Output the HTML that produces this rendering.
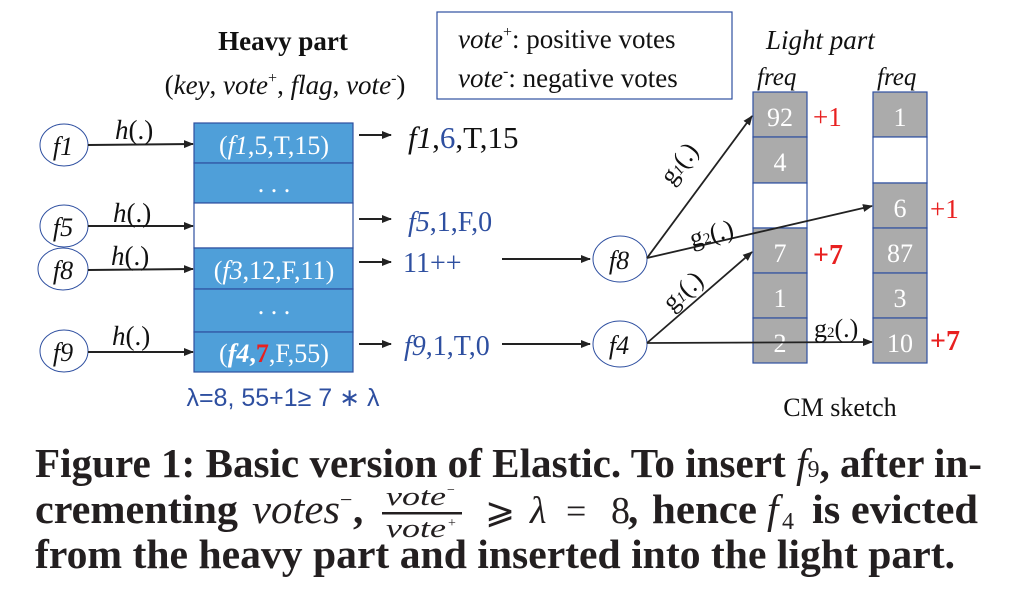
<!DOCTYPE html>
<html><head><meta charset="utf-8"><style>
html,body{margin:0;padding:0;background:#fff;}
svg{display:block;}
text{font-family:"Liberation Serif",serif;}
</style></head><body>
<svg width="1010" height="599" viewBox="0 0 1010 599" xmlns="http://www.w3.org/2000/svg">
<defs>
<marker id="ah" markerWidth="10" markerHeight="8" refX="9" refY="4" orient="auto" markerUnits="userSpaceOnUse"><path d="M0,0 L10,4 L0,8 z" fill="#222"/></marker>
</defs>
<text x="283" y="50" font-size="27" font-weight="bold" text-anchor="middle" fill="#111">Heavy part</text>
<text x="285" y="94" font-size="27" text-anchor="middle" fill="#111">(<tspan font-style="italic">key</tspan>, <tspan font-style="italic">vote</tspan><tspan font-size="16" dy="-11">+</tspan><tspan dy="11">, </tspan><tspan font-style="italic">flag</tspan>, <tspan font-style="italic">vote</tspan><tspan font-size="16" dy="-11">-</tspan><tspan dy="11">)</tspan></text>
<rect x="437" y="12" width="295" height="87" fill="#fff" stroke="#2e4fa0" stroke-width="1.2"/>
<text x="458" y="48" font-size="27" fill="#111"><tspan font-style="italic">vote</tspan><tspan font-size="16" dy="-11">+</tspan><tspan dy="11">: positive votes</tspan></text>
<text x="458" y="87" font-size="27" fill="#111"><tspan font-style="italic">vote</tspan><tspan font-size="16" dy="-11">-</tspan><tspan dy="11">: negative votes</tspan></text>
<rect x="194" y="123" width="159" height="40" fill="#4f9fd9" stroke="#2e4fa0" stroke-width="1.2"/>
<rect x="194" y="163" width="159" height="40" fill="#4f9fd9" stroke="#2e4fa0" stroke-width="1.2"/>
<rect x="194" y="203" width="159" height="45" fill="#fff" stroke="#2e4fa0" stroke-width="1.2"/>
<rect x="194" y="248" width="159" height="41" fill="#4f9fd9" stroke="#2e4fa0" stroke-width="1.2"/>
<rect x="194" y="289" width="159" height="43" fill="#4f9fd9" stroke="#2e4fa0" stroke-width="1.2"/>
<rect x="194" y="332" width="159" height="40" fill="#4f9fd9" stroke="#2e4fa0" stroke-width="1.2"/>
<text x="274" y="154" font-size="26" fill="#fff" text-anchor="middle">(<tspan font-style="italic">f1</tspan>,5,T,15)</text>
<text x="274" y="192" font-size="26" fill="#fff" text-anchor="middle">. . .</text>
<text x="274" y="279" font-size="26" fill="#fff" text-anchor="middle">(<tspan font-style="italic">f3</tspan>,12,F,11)</text>
<text x="274" y="314" font-size="26" fill="#fff" text-anchor="middle">. . .</text>
<text x="274" y="362" font-size="26" fill="#fff" text-anchor="middle">(<tspan font-style="italic" font-weight="bold">f4</tspan><tspan font-weight="bold">,</tspan><tspan font-weight="bold" fill="#e82020">7</tspan>,F,55)</text>
<text x="283" y="406" font-size="25" fill="#2e4fa0" text-anchor="middle" style="font-family:'Liberation Sans',sans-serif">λ=8, 55+1≥ 7 ∗ λ</text>
<g fill="#fff" stroke="#2e4fa0" stroke-width="1">
<ellipse cx="64" cy="145" rx="24" ry="21"/>
<ellipse cx="64" cy="226" rx="24" ry="21"/>
<ellipse cx="63" cy="269" rx="25" ry="21"/>
<ellipse cx="64" cy="351" rx="24" ry="21"/>
</g>
<g font-size="26" font-style="italic" fill="#111" text-anchor="middle">
<text x="63" y="155">f1</text>
<text x="63" y="236">f5</text>
<text x="63" y="279">f8</text>
<text x="63" y="361">f9</text>
</g>
<g stroke="#222" stroke-width="2" marker-end="url(#ah)">
<line x1="88" y1="145" x2="193" y2="144"/>
<line x1="88" y1="226" x2="193" y2="226"/>
<line x1="88" y1="270" x2="193" y2="269"/>
<line x1="88" y1="352" x2="193" y2="352"/>
</g>
<g font-size="27" fill="#111">
<text x="115" y="139"><tspan font-style="italic">h</tspan>(.)</text>
<text x="113" y="222"><tspan font-style="italic">h</tspan>(.)</text>
<text x="111" y="265"><tspan font-style="italic">h</tspan>(.)</text>
<text x="112" y="345"><tspan font-style="italic">h</tspan>(.)</text>
</g>
<g stroke="#222" stroke-width="2" marker-end="url(#ah)">
<line x1="359" y1="135" x2="391" y2="135"/>
<line x1="359" y1="219" x2="391" y2="219"/>
<line x1="359" y1="262" x2="391" y2="262"/>
<line x1="359" y1="344" x2="391" y2="344"/>
<line x1="502" y1="259" x2="590" y2="259"/>
<line x1="502" y1="344" x2="590" y2="344"/>
</g>
<text x="408" y="148" font-size="31" fill="#111"><tspan font-style="italic">f1</tspan>,<tspan fill="#2e4fa0">6</tspan>,T,15</text>
<text x="408" y="231" font-size="28" fill="#2e4fa0"><tspan font-style="italic">f5</tspan>,1,F,0</text>
<text x="403" y="272" font-size="28" fill="#2e4fa0">11++</text>
<text x="404" y="355" font-size="28" fill="#2e4fa0"><tspan font-style="italic">f9</tspan>,1,T,0</text>
<ellipse cx="620" cy="259" rx="27" ry="23" fill="#fff" stroke="#2e4fa0" stroke-width="1"/>
<ellipse cx="620" cy="344" rx="27" ry="23" fill="#fff" stroke="#2e4fa0" stroke-width="1"/>
<text x="619" y="269" font-size="26" font-style="italic" fill="#111" text-anchor="middle">f8</text>
<text x="619" y="354" font-size="26" font-style="italic" fill="#111" text-anchor="middle">f4</text>
<text x="766" y="49" font-size="27" font-style="italic" fill="#111">Light part</text>
<text x="757" y="85" font-size="25" font-style="italic" fill="#111">freq</text>
<text x="877" y="85" font-size="25" font-style="italic" fill="#111">freq</text>
<g stroke="#2e4fa0" stroke-width="1.2">
<rect x="753" y="92" width="54" height="45" fill="#ababab"/>
<rect x="753" y="137" width="54" height="46" fill="#ababab"/>
<rect x="753" y="183" width="54" height="45" fill="#fff"/>
<rect x="753" y="228" width="54" height="45" fill="#ababab"/>
<rect x="753" y="273" width="54" height="45" fill="#ababab"/>
<rect x="753" y="318" width="54" height="45" fill="#ababab"/>
<rect x="873" y="92" width="54" height="45" fill="#ababab"/>
<rect x="873" y="137" width="54" height="46" fill="#fff"/>
<rect x="873" y="183" width="54" height="45" fill="#ababab"/>
<rect x="873" y="228" width="54" height="45" fill="#ababab"/>
<rect x="873" y="273" width="54" height="45" fill="#ababab"/>
<rect x="873" y="318" width="54" height="45" fill="#ababab"/>
</g>
<g font-size="26" fill="#fff" text-anchor="middle">
<text x="780" y="126">92</text>
<text x="780" y="171">4</text>
<text x="780" y="262">7</text>
<text x="780" y="307">1</text>
<text x="780" y="352">2</text>
<text x="900" y="126">1</text>
<text x="900" y="217">6</text>
<text x="900" y="262">87</text>
<text x="900" y="307">3</text>
<text x="900" y="352">10</text>
</g>
<text x="813" y="126" font-size="27" fill="#e82020">+1</text>
<text x="813" y="264" font-size="28" font-weight="bold" fill="#e82020">+7</text>
<text x="930" y="218" font-size="27" fill="#e82020">+1</text>
<text x="930" y="350" font-size="28" font-weight="bold" fill="#e82020">+7</text>
<g stroke="#222" stroke-width="1.8" marker-end="url(#ah)">
<line x1="647" y1="258" x2="752" y2="116"/>
<line x1="647" y1="258" x2="872" y2="206"/>
<line x1="647" y1="343" x2="752" y2="252"/>
<line x1="647" y1="343" x2="872" y2="342"/>
</g>
<g font-size="26" fill="#111">
<text x="0" y="0" transform="translate(672,186) rotate(-52)">g<tspan font-size="15" font-style="italic">1</tspan>(.)</text>
<text x="0" y="0" transform="translate(692,247) rotate(-14)">g<tspan font-size="15">2</tspan>(.)</text>
<text x="0" y="0" transform="translate(672,312) rotate(-42)">g<tspan font-size="15" font-style="italic">1</tspan>(.)</text>
<text x="814" y="337">g<tspan font-size="15">2</tspan>(.)</text>
</g>
<text x="840" y="416" font-size="26" fill="#111" text-anchor="middle">CM sketch</text>
<g font-size="41" font-weight="bold" fill="#231f20">
<text x="35" y="477" textLength="947" lengthAdjust="spacingAndGlyphs">Figure 1: Basic version of Elastic. To insert <tspan font-style="italic" font-weight="normal">f</tspan><tspan font-weight="normal" font-size="24">9</tspan>, after in-</text>
<text x="35" y="523" textLength="203" lengthAdjust="spacingAndGlyphs">crementing</text>
<text x="252" y="523" font-weight="normal" font-style="italic" textLength="88" lengthAdjust="spacingAndGlyphs">votes</text>
<text x="340" y="507" font-weight="normal" font-size="22">−</text>
<text x="353" y="523">,</text>
<text x="386" y="505" font-size="26" font-weight="normal" font-style="italic" textLength="60" lengthAdjust="spacingAndGlyphs">vote</text>
<text x="447" y="494" font-size="14" font-weight="normal">−</text>
<rect x="382" y="512" width="80" height="2.5" fill="#231f20"/>
<text x="386" y="537" font-size="26" font-weight="normal" font-style="italic" textLength="60" lengthAdjust="spacingAndGlyphs">vote</text>
<text x="448" y="527" font-size="14" font-weight="normal">+</text>
<text x="485" y="523" font-weight="normal" font-size="36">⩾</text>
<text x="530" y="523" font-weight="normal" font-style="italic" font-size="38">λ</text>
<text x="566" y="523" font-weight="normal" font-size="36">=</text>
<text x="611" y="523" font-weight="normal" font-size="38">8</text>
<text x="628" y="523">,</text>
<text x="652" y="523" textLength="105" lengthAdjust="spacingAndGlyphs">hence</text>
<text x="767" y="523" font-weight="normal" font-style="italic">f</text>
<text x="782" y="529" font-weight="normal" font-size="24">4</text>
<text x="812" y="523" textLength="166" lengthAdjust="spacingAndGlyphs">is evicted</text>
<text x="35" y="568" textLength="920" lengthAdjust="spacingAndGlyphs">from the heavy part and inserted into the light part.</text>
</g>
</svg>
</body></html>
